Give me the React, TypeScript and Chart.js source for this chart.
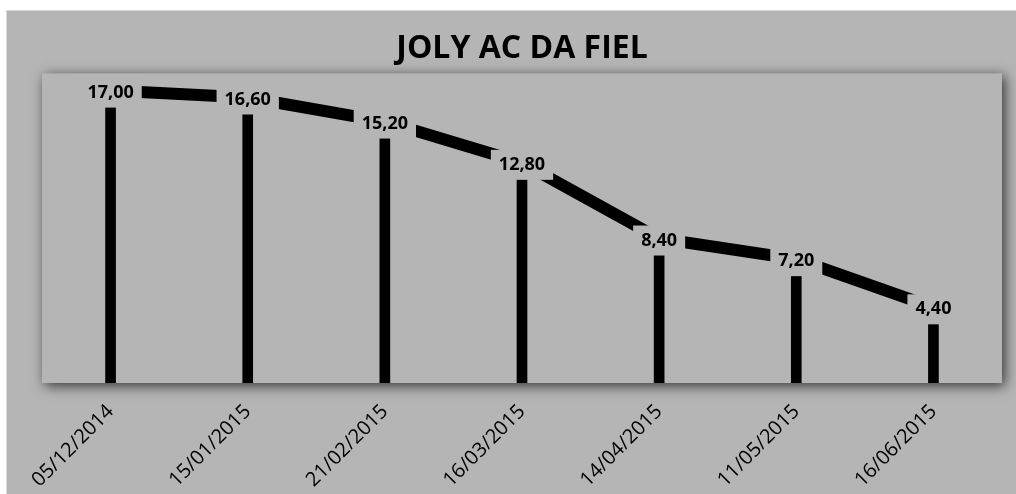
import React, { useEffect, useRef } from "react";
import { Chart, registerables } from "chart.js";

Chart.register(...registerables);

const TITLE = "JOLY AC DA FIEL";
const DATES = [
  "05/12/2014",
  "15/01/2015",
  "21/02/2015",
  "16/03/2015",
  "14/04/2015",
  "11/05/2015",
  "16/06/2015",
];
const VALUES = [17.0, 16.6, 15.2, 12.8, 8.4, 7.2, 4.4];
const Y_MIN = 0;
const Y_MAX = 18;

const BG = "#b5b5b5";
const FONT = "'Open Sans', 'DejaVu Sans', sans-serif";

const fmt = (v: number) => v.toFixed(2).replace(".", ",");

const plotShadow = {
  id: "plotShadow",
  beforeDraw(chart: any) {
    const { ctx, chartArea: a } = chart;
    ctx.save();
    ctx.shadowColor = "rgba(0,0,0,0.7)";
    ctx.shadowBlur = 12;
    ctx.shadowOffsetX = 3;
    ctx.shadowOffsetY = 3;
    ctx.fillStyle = BG;
    ctx.fillRect(a.left, a.top, a.right - a.left, a.bottom - a.top);
    ctx.restore();
  },
};

const valueLabels = {
  id: "valueLabels",
  afterDatasetsDraw(chart: any) {
    const { ctx } = chart;
    const meta = chart.getDatasetMeta(1);
    ctx.save();
    ctx.font = `bold 18px ${FONT}`;
    ctx.textAlign = "center";
    ctx.textBaseline = "middle";
    meta.data.forEach((pt: any, i: number) => {
      const txt = fmt(VALUES[i]);
      const w = ctx.measureText(txt).width;
      const x = pt.x;
      const y = pt.y + 2;
      ctx.fillStyle = BG;
      ctx.fillRect(x - w / 2 - 8, y - 15, w + 16, 30);
      ctx.fillStyle = "#000";
      ctx.fillText(txt, x, y);
    });
    ctx.restore();
  },
};

export default function App() {
  const ref = useRef<HTMLCanvasElement | null>(null);

  useEffect(() => {
    if (!ref.current) return;
    const chart = new Chart(ref.current, {
      type: "bar",
      data: {
        labels: DATES,
        datasets: [
          {
            type: "bar",
            data: VALUES,
            backgroundColor: "#000",
            borderWidth: 0,
            barThickness: 10,
            order: 2,
          },
          {
            type: "line",
            data: VALUES,
            borderColor: "#000",
            borderWidth: 12,
            pointRadius: 0,
            tension: 0,
            fill: false,
            order: 1,
          } as any,
        ],
      },
      options: {
        animation: false,
        responsive: false,
        maintainAspectRatio: false,
        layout: { padding: { left: 35, right: 14, top: 0, bottom: 0 } },
        plugins: {
          legend: { display: false },
          tooltip: { enabled: false },
          title: {
            display: true,
            text: TITLE,
            color: "#000",
            font: { family: FONT, size: 32, weight: "bold" },
            padding: { top: 19, bottom: 5 },
          },
        },
        scales: {
          x: {
            offset: true,
            grid: { display: false },
            border: { display: false },
            ticks: {
              color: "#000",
              font: { family: FONT, size: 20 },
              minRotation: 45,
              maxRotation: 45,
              padding: 9,
            },
            afterFit: (s: any) => {
              s.height = 111;
            },
          },
          y: {
            display: false,
            min: Y_MIN,
            max: Y_MAX,
          },
        },
      },
      plugins: [plotShadow, valueLabels],
    });
    return () => chart.destroy();
  }, []);

  return (
    <div
      style={{
        position: "absolute",
        left: 6,
        top: 10,
        width: 1009,
        height: 483,
        background: BG,
        borderTop: "1px solid #d9d9d9",
        borderLeft: "1px solid #d9d9d9",
      }}
    >
      <canvas ref={ref} width={1009} height={483} style={{ display: "block" }} />
    </div>
  );
}
